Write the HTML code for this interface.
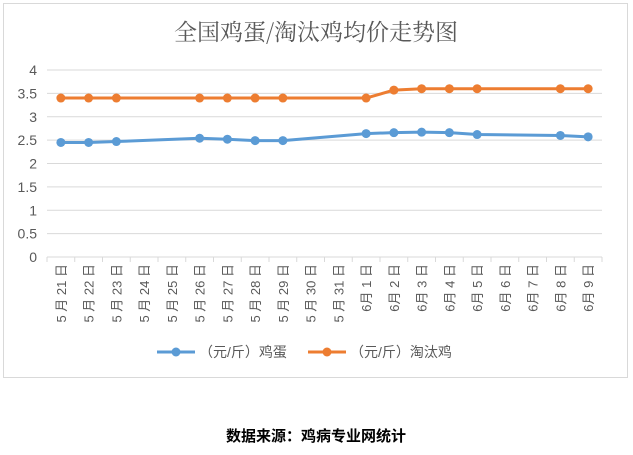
<!DOCTYPE html>
<html><head><meta charset="utf-8"><style>
body{margin:0;background:#fff;width:633px;height:450px;overflow:hidden;font-family:"Liberation Sans","Noto Sans CJK SC",sans-serif}
</style></head><body>
<svg width="633" height="450">
<rect x="3.5" y="3.5" width="624" height="374" fill="#fff" stroke="#d9d9d9"/>
<text x="316" y="40" text-anchor="middle" font-size="23" fill="#595959" font-family="Noto Serif CJK SC, Noto Sans CJK SC, serif">全国鸡蛋/淘汰鸡均价走势图</text>
<g id="grid"></g><g id="xaxis"></g><g id="series"></g>
<g>
<g>
<line x1="157" y1="352" x2="195" y2="352" stroke="#5b9bd5" stroke-width="3"/><circle cx="176" cy="352" r="4.5" fill="#5b9bd5"/>
<text x="199" y="357" font-size="14" fill="#595959">（元/斤）鸡蛋</text></g>
<g>
<line x1="308" y1="352" x2="346" y2="352" stroke="#ed7d31" stroke-width="3"/><circle cx="327" cy="352" r="4.5" fill="#ed7d31"/>
<text x="350" y="357" font-size="14" fill="#595959">（元/斤）淘汰鸡</text></g>
</g>
<text x="316" y="441" text-anchor="middle" font-size="15" font-weight="bold" fill="#000">数据来源：鸡病专业网统计</text>
</svg>
<script>
const categories=["5 月 21 日","5 月 22 日","5 月 23 日","5 月 24 日","5 月 25 日","5 月 26 日","5 月 27 日","5 月 28 日","5 月 29 日","5 月 30 日","5 月 31 日","6月 1 日","6月 2 日","6月 3 日","6月 4 日","6月 5 日","6月 6 日","6月 7 日","6月 8 日","6月 9 日"];
const eggValues=[2.45,2.45,2.47,null,null,2.54,2.52,2.49,2.49,null,null,2.64,2.66,2.67,2.66,2.62,null,null,2.60,2.57];
const henValues=[3.4,3.4,3.4,null,null,3.4,3.4,3.4,3.4,null,null,3.4,3.57,3.6,3.6,3.6,null,null,3.6,3.6];
const yTicks=[0,0.5,1,1.5,2,2.5,3,3.5,4];
const yTickLabels=["0","0.5","1","1.5","2","2.5","3","3.5","4"];
const NS="http://www.w3.org/2000/svg";
const X0=47,X1=602,Y0=257,Y1=70,YMAX=4;
const bw=(X1-X0)/categories.length;
function xs(i){return X0+bw*(i+0.5);}
function ys(v){return Y0-(v/YMAX)*(Y0-Y1);}
function mk(t,a,p){const e=document.createElementNS(NS,t);for(const k in a)e.setAttribute(k,a[k]);p.appendChild(e);return e;}
const grid=document.getElementById('grid');
yTicks.forEach((v,i)=>{
  if(v>0){const l=mk('line',{x1:X0,x2:X1,y1:ys(v),y2:ys(v),stroke:'#d9d9d9'},grid);
  
  }
  const t=mk('text',{x:37,y:ys(v)+5,'text-anchor':'end','font-size':14,fill:'#595959'},grid);t.textContent=yTickLabels[i];
  
  
});
const xa=document.getElementById('xaxis');
const ax=mk('line',{x1:X0,x2:X1,y1:Y0,y2:Y0,stroke:'#d9d9d9'},xa);


for(let i=0;i<=categories.length;i++){mk('line',{x1:X0+bw*i,x2:X0+bw*i,y1:Y0,y2:Y0+5,stroke:'#d9d9d9'},xa);}
categories.forEach((c,i)=>{
  const t=mk('text',{x:0,y:0,'font-size':13,fill:'#595959','text-anchor':'end',transform:`translate(${xs(i)+5},${Y0+7}) rotate(-90)`},xa);
  t.textContent=c;
  
  
});
const sg=document.getElementById('series');
function draw(vals,color,name){
  const pts=[];vals.forEach((v,i)=>{if(v!=null)pts.push([xs(i),ys(v)]);});
  const pl=mk('polyline',{points:pts.map(p=>p.join(',')).join(' '),fill:'none',stroke:color,'stroke-width':3,'stroke-linejoin':'round'},sg);
  
  
  pts.forEach(p=>{const c=mk('circle',{cx:p[0],cy:p[1],r:4.5,fill:color},sg);
  
  });
}
draw(henValues,'#ed7d31','hen-series');
draw(eggValues,'#5b9bd5','egg-series');
</script>
</body></html>
